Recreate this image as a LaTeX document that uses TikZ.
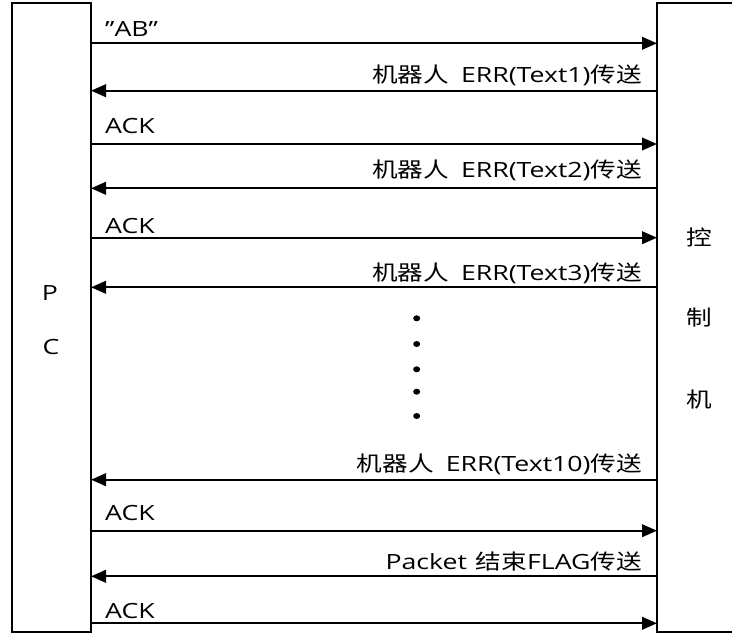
\documentclass[tikz,border=0pt]{standalone}
\usepackage{fontspec}
\setmainfont{Open Sans}[FakeStretch=1.27]
\newfontfamily\cjk{Noto Sans CJK SC}[FakeStretch=1.22]
\usetikzlibrary{arrows.meta,shapes.geometric}
\begin{document}
\begin{tikzpicture}[x=1pt,y=-1pt,
  box/.style={draw, line width=2.2pt, minimum width=79pt, minimum height=629pt, inner sep=0pt, outer sep=0pt},
  lbl/.style={inner sep=0pt, font=\fontsize{21}{25}\selectfont},
  sideword/.style={inner sep=0pt, font=\fontsize{21}{25}\selectfont\cjk},
  msg/.style={line width=2.3pt, -{Triangle[length=15pt,width=12.5pt]}},
  dotmark/.style={ellipse, fill, inner sep=0pt, minimum width=7pt, minimum height=6pt}]
\useasboundingbox (0,0) rectangle (732,634);
% boxes
\node[box] (pc) at (51.5,317.5) {};
\node[box] (ctl) at (696.5,317.5) {};
% box labels
\node[lbl] (p) at (50,293) {P};
\node[lbl] (c) at (51,347) {C};
\node[sideword] (k1) at (699,237.5) {控};
\node[sideword] (k2) at (699,318) {制};
\node[sideword] (k3) at (699,400) {机};
% messages
\draw[msg] (pc.east |- 0,43.3) -- (ctl.west |- 0,43.3);
\node[lbl, anchor=base west] (l1) at (105,36.7) {”AB”};
\draw[msg] (ctl.west |- 0,90.7) -- (pc.east |- 0,90.7);
\node[lbl, anchor=base east] (l2) at (642,82.7) {{\cjk 机器人}\hspace{12pt}ERR(Text1){\cjk 传送}};
\draw[msg] (pc.east |- 0,144) -- (ctl.west |- 0,144);
\node[lbl, anchor=base west] (l3) at (105,133.3) {ACK};
\draw[msg] (ctl.west |- 0,188.3) -- (pc.east |- 0,188.3);
\node[lbl, anchor=base east] (l4) at (642,178) {{\cjk 机器人}\hspace{12pt}ERR(Text2){\cjk 传送}};
\draw[msg] (pc.east |- 0,237.7) -- (ctl.west |- 0,237.7);
\node[lbl, anchor=base west] (l5) at (105,233.3) {ACK};
\draw[msg] (ctl.west |- 0,287.3) -- (pc.east |- 0,287.3);
\node[lbl, anchor=base east] (l6) at (642,280) {{\cjk 机器人}\hspace{12pt}ERR(Text3){\cjk 传送}};
% dots
\node[dotmark] (d1) at (416.7,318.3) {};
\node[dotmark] (d2) at (416.7,344) {};
\node[dotmark] (d3) at (416.7,369.3) {};
\node[dotmark] (d4) at (416.7,391.7) {};
\node[dotmark] (d5) at (416.7,416) {};
% final messages
\draw[msg] (ctl.west |- 0,479.7) -- (pc.east |- 0,479.7);
\node[lbl, anchor=base east] (l7) at (642,471) {{\cjk 机器人}\hspace{12pt}ERR(Text10){\cjk 传送}};
\draw[msg] (pc.east |- 0,530.7) -- (ctl.west |- 0,530.7);
\node[lbl, anchor=base west] (l8) at (105,520.7) {ACK};
\draw[msg] (ctl.west |- 0,576.3) -- (pc.east |- 0,576.3);
\node[lbl, anchor=base east] (l9) at (642,569) {Packet\hspace{9pt}{\cjk 结束}FLAG{\cjk 传送}};
\draw[msg] (pc.east |- 0,623.3) -- (ctl.west |- 0,623.3);
\node[lbl, anchor=base west] (l10) at (105,618) {ACK};
\end{tikzpicture}
\end{document}
